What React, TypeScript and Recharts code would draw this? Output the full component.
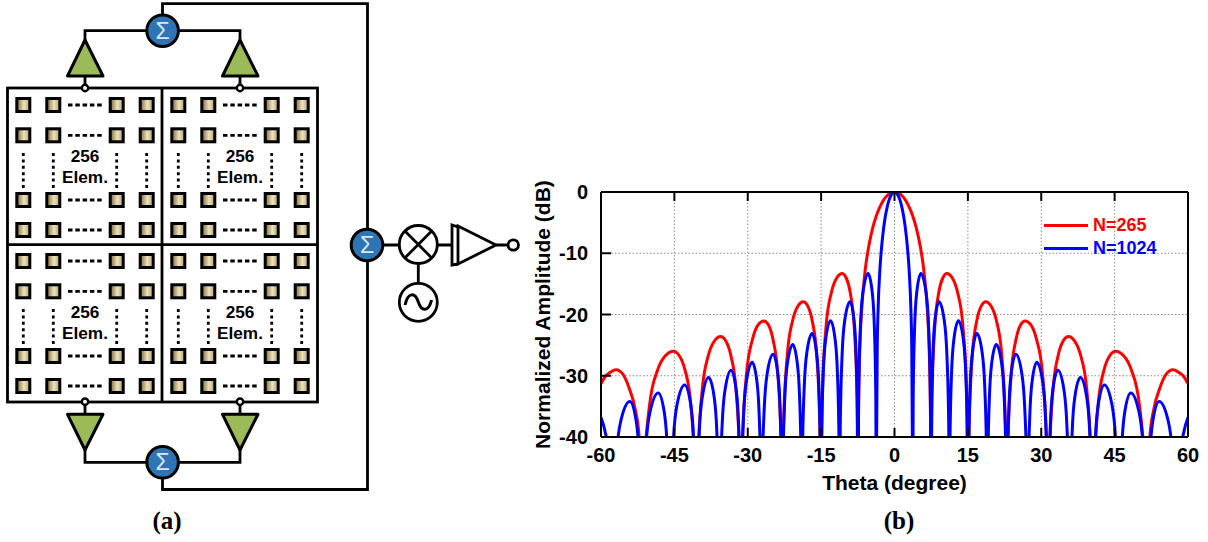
import { CartesianGrid, Label, Legend, Line, LineChart, XAxis, YAxis } from 'recharts';

const thetaTicks = [-60, -45, -30, -15, 0, 15, 30, 45, 60];
const ampTicks = [0, -10, -20, -30, -40];

// N=265, one row per lobe
const redTheta = [
  -60, -59.2, -58.4, -56.9, -55.57, -54.25, -53, -52.2, -51.7,
  -51.6, -51.22, -50.06, -48.4, -46.8, -45.2, -44.03, -42.85, -41.63, -40.78,
  -40.5, -40.2, -39.31, -38.03, -36.79, -35.55, -34.51, -33.48, -32.4, -31.65,
  -31.4, -31.12, -30.27, -29.05, -27.88, -26.7, -25.76, -24.83, -23.85, -23.18,
  -22.95, -22.69, -21.92, -20.8, -19.73, -18.65, -17.75, -16.85, -15.91, -15.26,
  -15.04, -14.78, -14, -12.87, -11.79, -10.7, -9.89, -9.08, -8.24, -7.65,
  -7.46, -7.39, -7.31, -7.09, -6.71, -5.97, -5.22, -4.48, -3.73, -2.98, -2.24, -1.49, -0.75,
  0, 0.75, 1.49, 2.24, 2.98, 3.73, 4.48, 5.22, 5.97, 6.71, 7.09, 7.31, 7.39,
  7.46, 7.65, 8.24, 9.08, 9.89, 10.7, 11.79, 12.87, 14, 14.78,
  15.04, 15.26, 15.91, 16.85, 17.75, 18.65, 19.73, 20.8, 21.92, 22.69,
  22.95, 23.18, 23.85, 24.83, 25.76, 26.7, 27.88, 29.05, 30.27, 31.12,
  31.4, 31.65, 32.4, 33.48, 34.51, 35.55, 36.79, 38.03, 39.31, 40.2,
  40.5, 40.78, 41.63, 42.85, 44.03, 45.2, 46.8, 48.4, 50.06, 51.22,
  51.6, 51.7, 52.2, 53, 54.25, 55.57, 56.9, 58.4, 59.2, 60,
];
const redAmp = [
  -31.3, -30.2, -29.6, -29, -29.7, -32, -35.5, -40, -50,
  -58, -46.5, -34.7, -29, -26.7, -26, -26.7, -29, -34.7, -46.5,
  -55, -44.1, -32.3, -26.6, -24.3, -23.6, -24.3, -26.6, -32.3, -44.1,
  -55, -41.6, -29.8, -24.1, -21.7, -21.05, -21.7, -24.1, -29.8, -41.6,
  -55, -38.4, -26.6, -20.9, -18.6, -17.9, -18.6, -20.9, -26.6, -38.4,
  -55, -33.8, -22, -16.3, -14, -13.3, -14, -16.3, -22, -33.8,
  -55, -39.9, -33.8, -25.6, -19.2, -12.6, -8.68, -5.94, -3.92, -2.42, -1.33, -0.58, -0.14,
  0, -0.14, -0.58, -1.33, -2.42, -3.92, -5.94, -8.68, -12.6, -19.2, -25.6, -33.8, -39.9,
  -55, -33.8, -22, -16.3, -14, -13.3, -14, -16.3, -22, -33.8,
  -55, -38.4, -26.6, -20.9, -18.6, -17.9, -18.6, -20.9, -26.6, -38.4,
  -55, -41.6, -29.8, -24.1, -21.7, -21.05, -21.7, -24.1, -29.8, -41.6,
  -55, -44.1, -32.3, -26.6, -24.3, -23.6, -24.3, -26.6, -32.3, -44.1,
  -55, -46.5, -34.7, -29, -26.7, -26, -26.7, -29, -34.7, -46.5,
  -58, -50, -40, -35.5, -32, -29.7, -29, -29.6, -30.2, -31.3,
];

// N=1024
const blueTheta = [
  -60, -59.2, -58.6, -58.1,
  -57.7, -57.48, -56.84, -55.9, -54.1, -52.85, -52.2, -51.75,
  -51.6, -51.4, -50.81, -49.95, -48.3, -47.1, -46.48, -46.04,
  -45.9, -45.72, -45.18, -44.4, -42.9, -41.7, -41.08, -40.64,
  -40.5, -40.35, -39.9, -39.25, -38, -36.9, -36.33, -35.93,
  -35.8, -35.66, -35.22, -34.6, -33.4, -32.4, -31.88, -31.52,
  -31.4, -31.26, -30.85, -30.25, -29.1, -28.15, -27.66, -27.31,
  -27.2, -27.06, -26.62, -26, -24.8, -23.88, -23.39, -23.06,
  -22.95, -22.82, -22.43, -21.88, -20.8, -19.88, -19.4, -19.07,
  -18.96, -18.83, -18.45, -17.9, -16.85, -15.95, -15.47, -15.15,
  -15.04, -14.92, -14.57, -14.06, -13.07, -12.15, -11.66, -11.33,
  -11.22, -11.09, -10.71, -10.16, -9.1, -8.28, -7.85, -7.56,
  -7.46, -7.34, -6.97, -6.43, -5.4, -4.56, -4.12, -3.82,
  -3.72, -3.65, -3.53, -3.35, -2.98, -2.6, -2.23, -1.86, -1.49, -1.12, -0.74, -0.37,
  0, 0.37, 0.74, 1.12, 1.49, 1.86, 2.23, 2.6, 2.98, 3.35, 3.53, 3.65,
  3.72, 3.82, 4.12, 4.56, 5.4, 6.43, 6.97, 7.34,
  7.46, 7.56, 7.85, 8.28, 9.1, 10.16, 10.71, 11.09,
  11.22, 11.33, 11.66, 12.15, 13.07, 14.06, 14.57, 14.92,
  15.04, 15.15, 15.47, 15.95, 16.85, 17.9, 18.45, 18.83,
  18.96, 19.07, 19.4, 19.88, 20.8, 21.88, 22.43, 22.82,
  22.95, 23.06, 23.39, 23.88, 24.8, 26, 26.62, 27.06,
  27.2, 27.31, 27.66, 28.15, 29.1, 30.25, 30.85, 31.26,
  31.4, 31.52, 31.88, 32.4, 33.4, 34.6, 35.22, 35.66,
  35.8, 35.93, 36.33, 36.9, 38, 39.25, 39.9, 40.35,
  40.5, 40.64, 41.08, 41.7, 42.9, 44.4, 45.18, 45.72,
  45.9, 46.04, 46.48, 47.1, 48.3, 49.95, 50.81, 51.4,
  51.6, 51.75, 52.2, 52.85, 54.1, 55.9, 56.84, 57.48,
  57.7, 58.1, 58.6, 59.2, 60,
];
const blueAmp = [
  -36.8, -39, -42, -52,
  -58, -54.7, -42.9, -37.2, -34.2, -37.2, -42.9, -54.7,
  -58, -53.3, -41.5, -35.8, -32.8, -35.8, -41.5, -53.3,
  -58, -52, -40.2, -34.5, -31.5, -34.5, -40.2, -52,
  -58, -50.8, -39, -33.3, -30.3, -33.3, -39, -50.8,
  -58, -49.6, -37.8, -32.1, -29.1, -32.1, -37.8, -49.6,
  -58, -48.3, -36.5, -30.8, -27.8, -30.8, -36.5, -48.3,
  -58, -47, -35.2, -29.5, -26.5, -29.5, -35.2, -47,
  -55, -45.4, -33.6, -27.9, -24.9, -27.9, -33.6, -45.4,
  -55, -43.6, -31.8, -26.1, -23.1, -26.1, -31.8, -43.6,
  -55, -41.5, -29.7, -24, -21, -24, -29.7, -41.5,
  -55, -38.4, -26.6, -20.9, -17.9, -20.9, -26.6, -38.4,
  -55, -33.8, -22, -16.3, -13.3, -16.3, -22, -33.8,
  -55, -39.9, -25.6, -19.2, -12.6, -8.68, -5.94, -3.92, -2.42, -1.33, -0.58, -0.14,
  0, -0.14, -0.58, -1.33, -2.42, -3.92, -5.94, -8.68, -12.6, -19.2, -25.6, -39.9,
  -55, -33.8, -22, -16.3, -13.3, -16.3, -22, -33.8,
  -55, -38.4, -26.6, -20.9, -17.9, -20.9, -26.6, -38.4,
  -55, -41.5, -29.7, -24, -21, -24, -29.7, -41.5,
  -55, -43.6, -31.8, -26.1, -23.1, -26.1, -31.8, -43.6,
  -55, -45.4, -33.6, -27.9, -24.9, -27.9, -33.6, -45.4,
  -58, -47, -35.2, -29.5, -26.5, -29.5, -35.2, -47,
  -58, -48.3, -36.5, -30.8, -27.8, -30.8, -36.5, -48.3,
  -58, -49.6, -37.8, -32.1, -29.1, -32.1, -37.8, -49.6,
  -58, -50.8, -39, -33.3, -30.3, -33.3, -39, -50.8,
  -58, -52, -40.2, -34.5, -31.5, -34.5, -40.2, -52,
  -58, -53.3, -41.5, -35.8, -32.8, -35.8, -41.5, -53.3,
  -58, -54.7, -42.9, -37.2, -34.2, -37.2, -42.9, -54.7,
  -58, -52, -42, -39, -36.8,
];

const toRows = (theta: number[], amp: number[]) => theta.map((t, i) => ({ theta: t, amp: amp[i] }));
const redData = toRows(redTheta, redAmp);
const blueData = toRows(blueTheta, blueAmp);

const sans = '"Liberation Sans", Arial, sans-serif';
const tickText = { fill: '#000', fontSize: 20, fontWeight: 700, fontFamily: sans };
const labelText = { fill: '#000', fontSize: 21, fontWeight: 700, fontFamily: sans };
const tickStroke = { stroke: '#000', strokeWidth: 2 };
// top and right axes keep their tick marks but have no labels
const noLabel = () => <g />;

// schematic on the left
const elemCols = [23.3, 53.3, 116.7, 146.7];
const elemRows = [105, 135.3, 200, 230];
const quadrants = [
  [0, 0],
  [155, 0],
  [0, 156],
  [155, 156],
];

function Sum({ x, y }: { x: number; y: number }) {
  return (
    <g>
      <circle cx={x} cy={y} r={15.8} fill="#2e75b6" stroke="#000" strokeWidth={3} />
      <text x={x} y={y + 8} textAnchor="middle" fontSize={23} fontFamily={sans} fill="#dce6f2">
        Σ
      </text>
    </g>
  );
}

function Quadrant({ dx, dy }: { dx: number; dy: number }) {
  const wire = { stroke: '#000', strokeWidth: 2.8, fill: 'none' };
  return (
    <g transform={`translate(${dx} ${dy})`}>
      {elemRows.map((r) =>
        elemCols.map((c) => (
          <rect key={`${r}-${c}`} x={c - 6.5} y={r - 6.5} width={13} height={13} fill="url(#elem)" stroke="#000" strokeWidth={3} />
        )),
      )}
      {elemRows.map((r) => (
        <line key={r} x1={68} x2={104} y1={r} y2={r} {...wire} strokeDasharray="4.5 2.8" />
      ))}
      {elemCols.map((c) => (
        <line key={c} x1={c} x2={c} y1={153} y2={188} {...wire} strokeDasharray="3 3.4" />
      ))}
      <text x={85} y={162} textAnchor="middle" fontSize={17.2} fontWeight={700} fontFamily={sans}>
        256
      </text>
      <text x={85} y={183} textAnchor="middle" fontSize={17.2} fontWeight={700} fontFamily={sans}>
        Elem.
      </text>
    </g>
  );
}

function Schematic() {
  const wire = { stroke: '#000', strokeWidth: 2.8, fill: 'none' };
  const tri = { fill: '#9bbb59', stroke: '#000', strokeWidth: 3, strokeLinejoin: 'round' as const };
  return (
    <svg width={1208} height={542} style={{ position: 'absolute', left: 0, top: 0 }}>
      <defs>
        <linearGradient id="elem" x1="0" y1="0" x2="1" y2="0">
          <stop offset="0%" stopColor="#7a6636" />
          <stop offset="55%" stopColor="#eee3bd" />
          <stop offset="100%" stopColor="#b3a06c" />
        </linearGradient>
      </defs>
      {quadrants.map(([dx, dy]) => (
        <Quadrant key={`${dx}-${dy}`} dx={dx} dy={dy} />
      ))}
      <rect x={7.5} y={88} width={310} height={314} {...wire} />
      <line x1={162} x2={162} y1={88} y2={402} {...wire} />
      <line x1={7.5} x2={317.5} y1={244.7} y2={244.7} {...wire} />

      <path d="M162.5 15V3.7H367.5V489.5H162.5V478" {...wire} />
      <path d="M85 40V30.7H240V40" {...wire} />
      <path d="M85 450V462.3H240V450" {...wire} />
      <path d="M85 76V85M240 76V85M85 405V414M240 405V414" {...wire} />
      <polygon points="85,40 67.5,76 103,76" {...tri} />
      <polygon points="240,40 222.5,76 258,76" {...tri} />
      <polygon points="85,450 67.5,414.3 103,414.3" {...tri} />
      <polygon points="240,450 222.5,414.3 258,414.3" {...tri} />
      {[
        [85, 88],
        [240, 88],
        [85, 401.7],
        [240, 401.7],
      ].map(([x, y]) => (
        <circle key={`${x}-${y}`} cx={x} cy={y} r={3.2} fill="#fff" stroke="#000" strokeWidth={2.4} />
      ))}
      <Sum x={162.6} y={30.7} />
      <Sum x={162.6} y={462.3} />
      <Sum x={367} y={245} />

      <path d="M383 245H399M437.5 245H452M418.3 264V283M496 245H508" {...wire} />
      <circle cx={418.3} cy={244.5} r={19} fill="#fff" stroke="#000" strokeWidth={2.8} />
      <path d="M404.9 231.1L431.7 257.9M431.7 231.1L404.9 257.9" {...wire} />
      <circle cx={418.3} cy={302.3} r={19} fill="#fff" stroke="#000" strokeWidth={2.8} />
      <path d="M405 305C408 292 415 292 418.3 302C421.6 312 428.6 312 431.6 300" {...wire} strokeWidth={3} />
      <path d="M458 264L452 265V225L458 227" {...wire} />
      <polygon points="458,226 458,264 496,245" fill="#fff" stroke="#000" strokeWidth={2.8} />
      <circle cx={513.3} cy={245} r={5.2} fill="#fff" stroke="#000" strokeWidth={2.8} />

      <text x={167} y={529} textAnchor="middle" fontSize={25} fontWeight={700} fontFamily='"Liberation Serif", serif'>
        (a)
      </text>
      <text x={899} y={529} textAnchor="middle" fontSize={25} fontWeight={700} fontFamily='"Liberation Serif", serif'>
        (b)
      </text>
    </svg>
  );
}

function LegendBox({ payload }: { payload?: Array<{ value?: string; color?: string }> }) {
  return (
    <div>
      {(payload ?? []).map((p) => (
        <div key={p.value} style={{ display: 'flex', alignItems: 'center', height: 23 }}>
          <span style={{ width: 44, height: 2.6, background: p.color, marginRight: 5 }} />
          <span style={{ color: p.color, fontSize: 18, fontWeight: 700, fontFamily: sans }}>{p.value}</span>
        </div>
      ))}
    </div>
  );
}

export default function App() {
  return (
    <div style={{ position: 'absolute', left: 0, top: 0, width: 1208, height: 542, background: '#fff' }}>
      <Schematic />
      <div style={{ position: 'absolute', left: 0, top: 0 }}>
        <LineChart width={1208} height={542} data={redData} margin={{ top: 191, right: 19, bottom: 55, left: 551 }}>
          <CartesianGrid xAxisId="bottom" yAxisId="left" stroke="#8a8a8a" strokeWidth={1} strokeDasharray="1.5 2" />
          <XAxis
            xAxisId="bottom"
            type="number"
            dataKey="theta"
            domain={[-60, 60]}
            ticks={thetaTicks}
            allowDataOverflow
            height={50}
            tick={tickText}
            tickSize={-9}
            tickMargin={20}
            tickLine={tickStroke}
            axisLine={tickStroke}
          >
            <Label value="Theta (degree)" position="insideBottom" offset={-3} style={labelText} />
          </XAxis>
          <XAxis
            xAxisId="top"
            orientation="top"
            type="number"
            dataKey="theta"
            domain={[-60, 60]}
            ticks={thetaTicks}
            height={1}
            tick={noLabel}
            tickSize={-9}
            tickLine={tickStroke}
            axisLine={tickStroke}
          />
          <YAxis
            yAxisId="left"
            type="number"
            domain={[-40, 0]}
            ticks={ampTicks}
            allowDataOverflow
            width={50}
            tick={tickText}
            tickSize={-10}
            tickMargin={23}
            tickLine={tickStroke}
            axisLine={tickStroke}
          >
            <Label value="Normalized Amplitude (dB)" angle={-90} position="insideLeft" offset={-8} style={{ ...labelText, textAnchor: 'middle' }} />
          </YAxis>
          <YAxis
            yAxisId="right"
            orientation="right"
            type="number"
            domain={[-40, 0]}
            ticks={ampTicks}
            width={1}
            tick={noLabel}
            tickSize={-10}
            tickLine={tickStroke}
            axisLine={tickStroke}
          />
          <Legend
            content={<LegendBox />}
            layout="vertical"
            align="center"
            verticalAlign="middle"
            itemSorter={null}
            wrapperStyle={{ position: 'absolute', left: 1044, top: 214, width: 130, bottom: 'auto', right: 'auto' }}
          />
          <Line xAxisId="bottom" yAxisId="left" data={redData} dataKey="amp" name="N=265" type="monotone" stroke="#ff0000" strokeWidth={3} dot={false} isAnimationActive={false} />
          <Line xAxisId="bottom" yAxisId="left" data={blueData} dataKey="amp" name="N=1024" type="monotone" stroke="#0000ff" strokeWidth={3} dot={false} isAnimationActive={false} />
        </LineChart>
      </div>
    </div>
  );
}
